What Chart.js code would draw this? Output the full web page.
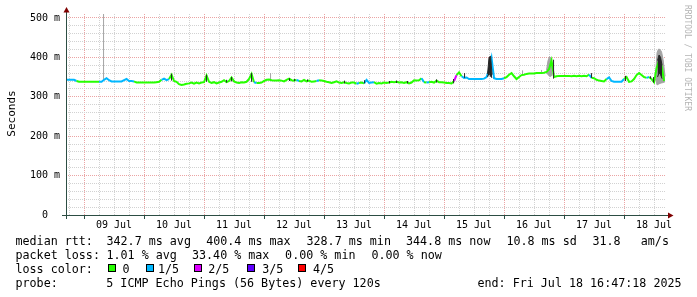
<!DOCTYPE html>
<html lang="en">
<head>
  <meta charset="UTF-8">
  <title>SmokePing - median rtt</title>
  <script src="https://cdn.jsdelivr.net/npm/chart.js"></script>
  <style>
    html, body { margin: 0; padding: 0; background: #fff; }
    canvas { display: block; }
  </style>
</head>
<body>
  <canvas id="rttChart" width="697" height="297"></canvas>

  <script>
    // hours counted from 09 Jul 00:00, one median sample per hour
    const firstHour = -7;
    const xMin = -7.22, xMax = 232.78;
    const dayLabels = ['09 Jul', '10 Jul', '11 Jul', '12 Jul', '13 Jul', '14 Jul', '15 Jul', '16 Jul', '17 Jul', '18 Jul'];

    // median rtt (ms)
    const medianJul08 = [343, 343, 343, 343, 340, 338, 338];
    const medianJul09 = [338, 338, 338, 338, 338, 338, 338, 338, 343, 347, 342, 339, 339, 339, 339, 339, 342, 345, 340, 340, 339, 336, 336, 336];
    const medianJul10 = [336, 336, 336, 336, 336, 337, 338, 343, 346, 342, 345, 356, 340, 338, 332, 330, 331, 333, 334, 336, 333, 336, 334, 336];
    const medianJul11 = [337, 354, 338, 335, 337, 334, 336, 338, 342, 337, 340, 349, 339, 336, 335, 337, 336, 338, 345, 358, 337, 335, 335, 336];
    const medianJul12 = [340, 343, 344, 342, 341, 341, 342, 341, 339, 343, 346, 342, 341, 343, 340, 339, 343, 339, 341, 338, 339, 340, 342, 341];
    const medianJul13 = [340, 338, 337, 335, 337, 339, 336, 335, 337, 335, 334, 336, 336, 333, 335, 336, 334, 343, 335, 336, 337, 333, 335, 334];
    const medianJul14 = [336, 335, 336, 338, 337, 338, 336, 337, 335, 337, 334, 336, 342, 341, 342, 347, 337, 336, 337, 338, 336, 341, 337, 337];
    const medianJul15 = [336, 335, 335, 334, 340, 355, 362, 352, 348, 349, 345, 345, 345, 345, 345, 345, 346, 350, 368, 398, 347, 345, 345, 345];
    const medianJul16 = [347, 350, 356, 360, 352, 345, 350, 355, 356, 358, 359, 359, 359, 360, 360, 360, 361, 363, 370, 392, 350, 352, 353, 353];
    const medianJul17 = [353, 353, 353, 352, 353, 352, 353, 352, 353, 352, 356, 348, 347, 343, 341, 340, 339, 345, 349, 340, 338, 338, 338, 338];
    const medianJul18 = [345, 350, 338, 339, 345, 355, 360, 355, 350, 348, 350, 345, 337, 372, 392, 378, 340];

    // [from hour, to hour, lost pings of 5]
    const lossRuns = [[-7, -4, 1], [6, 19, 1], [31, 33, 1], [68, 68, 1], [85, 85, 1], [93, 93, 1], [109, 109, 1],
                      [112, 115, 1], [135, 135, 1], [137, 137, 1], [148, 148, 2], [151, 163, 1], [164, 167, 1],
                      [202, 202, 1], [209, 215, 1], [225, 225, 1]];

    // smoke: single-sample spikes (low/high ms)
    const greySpikeTimes = [7.8, 74.6, 175.4, 183.0];
    const greySpikeLow = [340, 342, 356, 360];
    const greySpikeHigh = [510, 360, 367, 368];
    const blackSpikeTimes = [35.0, 49.0, 57.0, 59.0, 67.0, 82.2, 84.2, 89.4, 104.2, 112.2, 122.2, 125.0, 129.4, 141.0, 147.8, 152.2, 187.8, 203.0, 216.6, 226.6, 227.8];
    const blackSpikeLow = [341, 338, 336, 339, 338, 340, 340, 339, 334, 334, 334, 335, 334, 336, 334, 348, 346, 348, 340, 346, 336];
    const blackSpikeHigh = [358, 356, 343, 350, 360, 347, 345, 344, 341, 342, 340, 341, 340, 344, 345, 360, 394, 360, 353, 352, 350];

    // smoke: wider bands
    const greyBandTimes = [[185.0, 185.6, 186.2, 186.8, 187.4], [228.6, 229.2, 229.8, 230.4, 231.0, 231.6, 232.4]];
    const greyBandLow = [[360, 356, 352, 352, 356], [345, 330, 332, 334, 335, 336, 338]];
    const greyBandHigh = [[368, 392, 402, 398, 372], [352, 412, 421, 420, 414, 395, 352]];
    const blackBandTimes = [[161.4, 162.0, 162.6, 163.2], [229.4, 230.0, 230.6, 231.2]];
    const blackBandLow = [[350, 360, 352, 348], [350, 360, 356, 346]];
    const blackBandHigh = [[358, 400, 403, 356], [392, 406, 400, 380]];

    // legend texts
    const rttStats = ['342.7 ms avg', '400.4 ms max', '328.7 ms min', '344.8 ms now', '10.8 ms sd', '31.8', 'am/s'];
    const lossStats = ['1.01 % avg', '33.40 % max', '0.00 % min', '0.00 % now'];
    const lossLabels = ['0', '1/5', '2/5', '3/5', '4/5'];
    const lossColors = ['#26ff00', '#00b8ff', '#dd00ff', '#5e00ff', '#ff0000'];
    const probeText = '5 ICMP Echo Pings (56 Bytes) every 120s';
    const endText = 'end: Fri Jul 18 16:47:18 2025';

    const median = [].concat(medianJul08, medianJul09, medianJul10, medianJul11, medianJul12, medianJul13,
                             medianJul14, medianJul15, medianJul16, medianJul17, medianJul18);
    const hours = median.map((_, i) => firstHour + i);

    const minorGrid = '#d2d2d2';
    const majorGrid = '#eba4a4';
    const axisColor = '#2c4d43';
    const arrowColor = '#7f0000';
    const smokeGrey = '#a4a4a4';
    const smokeBlack = '#262626';
    const mono = "'DejaVu Sans Mono', monospace";

    function lossAt(h) {
      for (const [a, b, n] of lossRuns) {
        if (h >= a && h <= b) return n;
      }
      return 0;
    }

    function spikeSet(times, lo, hi, color) {
      const pts = [];
      times.forEach((t, i) => {
        pts.push({x: t, y: lo[i]}, {x: t, y: hi[i]}, {x: t, y: null});
      });
      return {data: pts, borderColor: color, borderWidth: 1, pointRadius: 0, fill: false, spanGaps: false};
    }

    function bandSets(times, lo, hi, color) {
      const sets = [];
      times.forEach((ts, k) => {
        sets.push({
          data: ts.map((t, i) => ({x: t, y: hi[k][i]})),
          borderColor: color, backgroundColor: color, borderWidth: 1, pointRadius: 0, fill: '+1'
        });
        sets.push({
          data: ts.map((t, i) => ({x: t, y: lo[k][i]})),
          borderColor: color, borderWidth: 1, pointRadius: 0, fill: false
        });
      });
      return sets;
    }

    const datasets = [
      spikeSet(blackSpikeTimes, blackSpikeLow, blackSpikeHigh, smokeBlack),
      ...bandSets(blackBandTimes, blackBandLow, blackBandHigh, smokeBlack),
      {
        data: hours.map((h, i) => ({x: h, y: median[i]})),
        borderWidth: 2,
        pointRadius: 0,
        tension: 0,
        fill: false,
        borderColor: lossColors[0],
        segment: {borderColor: c => lossColors[lossAt(hours[c.p0DataIndex])]}
      },
      spikeSet(greySpikeTimes, greySpikeLow, greySpikeHigh, smokeGrey),
      ...bandSets(greyBandTimes, greyBandLow, greyBandHigh, smokeGrey)
    ];

    // axes with arrows, rotated titles and the rrdtool style legend
    const rrdDecor = {
      id: 'rrdDecor',
      afterDraw(chart) {
        const ctx = chart.ctx;
        const a = chart.chartArea;
        ctx.save();

        ctx.strokeStyle = axisColor;
        ctx.lineWidth = 1;
        ctx.beginPath();
        ctx.moveTo(a.left + 0.5, a.bottom + 4);
        ctx.lineTo(a.left + 0.5, a.top - 2);
        ctx.moveTo(a.left - 4, a.bottom + 0.5);
        ctx.lineTo(a.right + 2, a.bottom + 0.5);
        ctx.stroke();

        ctx.fillStyle = arrowColor;
        ctx.beginPath();
        ctx.moveTo(a.left - 2.5, a.top - 1.5);
        ctx.lineTo(a.left + 3.5, a.top - 1.5);
        ctx.lineTo(a.left + 0.5, a.top - 7);
        ctx.closePath();
        ctx.fill();
        ctx.beginPath();
        ctx.moveTo(a.right + 2, a.bottom - 2.5);
        ctx.lineTo(a.right + 2, a.bottom + 3.5);
        ctx.lineTo(a.right + 7.5, a.bottom + 0.5);
        ctx.closePath();
        ctx.fill();

        // y title
        ctx.fillStyle = '#000';
        ctx.font = '11px ' + mono;
        ctx.textAlign = 'center';
        ctx.textBaseline = 'alphabetic';
        ctx.save();
        ctx.translate(15, 113.5);
        ctx.rotate(-Math.PI / 2);
        ctx.fillText('Seconds', 0, 0);
        ctx.restore();

        // watermark
        ctx.save();
        ctx.fillStyle = '#b4b4b4';
        ctx.font = '8px ' + mono;
        ctx.textAlign = 'left';
        ctx.translate(685, 5);
        ctx.rotate(Math.PI / 2);
        ctx.fillText('RRDTOOL / TOBI OETIKER', 0, 0);
        ctx.restore();

        // legend
        ctx.fillStyle = '#000';
        ctx.font = '11.7px ' + mono;
        ctx.textAlign = 'left';
        const rows = [245, 259, 273, 287];
        ctx.fillText('median rtt:', 15.5, rows[0]);
        const rttCols = [106.5, 206.2, 306.5, 406, 506.4, 592.5, 640.8];
        rttStats.forEach((s, i) => ctx.fillText(s, rttCols[i], rows[0]));

        ctx.fillText('packet loss:', 15.5, rows[1]);
        const lossCols = [106.5, 192, 285.1, 371.4];
        lossStats.forEach((s, i) => ctx.fillText(s, lossCols[i], rows[1]));

        ctx.fillText('loss color:', 15.5, rows[2]);
        const boxCols = [108, 146, 194, 247, 298];
        const labelCols = [122.4, 158, 208.2, 262.2, 312.9];
        lossLabels.forEach((s, i) => {
          ctx.fillStyle = lossColors[i];
          ctx.fillRect(boxCols[i], 264, 8, 8);
          ctx.strokeStyle = '#000';
          ctx.strokeRect(boxCols[i] + 0.5, 264.5, 7, 7);
          ctx.fillStyle = '#000';
          ctx.fillText(s, labelCols[i], rows[2]);
        });

        ctx.fillText('probe:', 15.5, rows[3]);
        ctx.fillText(probeText, 106.3, rows[3]);
        ctx.fillText(endText, 477.5, rows[3]);

        ctx.restore();
      }
    };

    const xTicks = [];
    for (let h = -6; h <= 228; h += 6) xTicks.push(h);
    const yTicks = [];
    for (let v = 0; v <= 500; v += 20) yTicks.push(v);

    new Chart(document.getElementById('rttChart').getContext('2d'), {
      type: 'line',
      data: {datasets: datasets},
      plugins: [rrdDecor],
      options: {
        responsive: false,
        animation: false,
        events: [],
        layout: {padding: {top: 14, right: 31, left: 0, bottom: 0}},
        plugins: {legend: {display: false}, tooltip: {enabled: false}},
        scales: {
          x: {
            type: 'linear',
            min: xMin,
            max: xMax,
            afterBuildTicks: s => { s.ticks = xTicks.map(v => ({value: v})); },
            afterFit: s => { s.height = 82; },
            grid: {
              color: c => (c.tick && c.tick.value % 24 === 0) ? majorGrid : minorGrid,
              tickColor: c => (c.tick && c.tick.value % 24 === 0) ? axisColor : 'rgba(0,0,0,0)',
              tickLength: 4,
              tickBorderDash: []
            },
            border: {display: false, dash: [1, 1]},
            ticks: {
              autoSkip: false,
              maxRotation: 0,
              padding: 0,
              color: '#000',
              font: {family: mono, size: 10},
              callback: v => (((v % 24) + 24) % 24 === 12) ? dayLabels[(v - 12) / 24] : ''
            }
          },
          y: {
            type: 'linear',
            min: 0,
            max: 510,
            afterBuildTicks: s => { s.ticks = yTicks.map(v => ({value: v})); },
            afterFit: s => { s.width = 66; },
            grid: {
              color: c => (c.tick && c.tick.value % 100 === 0) ? majorGrid : minorGrid,
              drawTicks: false
            },
            border: {display: false, dash: [1, 1]},
            ticks: {
              autoSkip: false,
              padding: 6,
              color: '#000',
              font: {family: mono, size: 10},
              callback: v => (v % 100 !== 0) ? '' : (v === 0 ? '0  ' : v + ' m')
            }
          }
        }
      }
    });
  </script>
</body>
</html>
